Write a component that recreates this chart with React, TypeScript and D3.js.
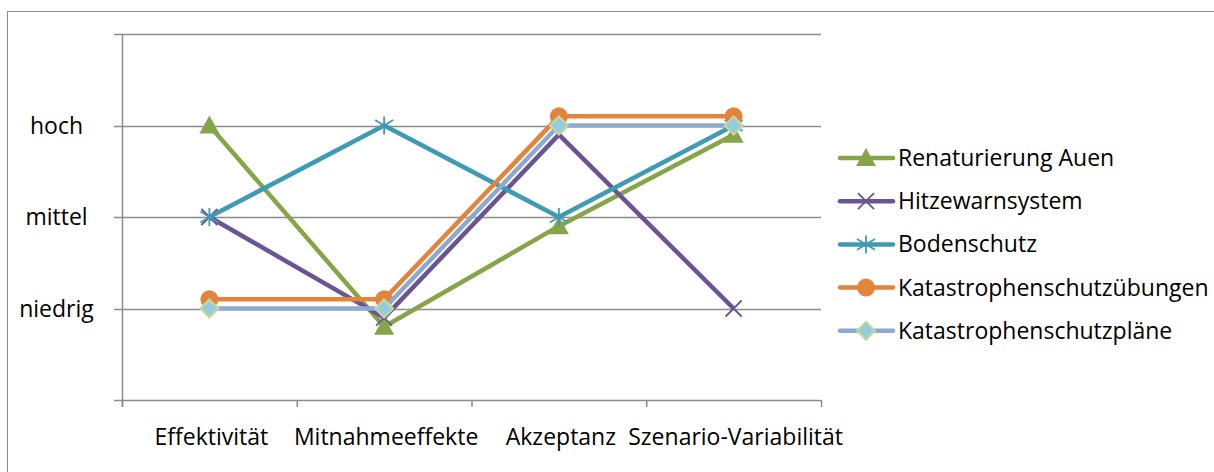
import React from 'react';
import * as d3 from 'd3';

const categories = ['Effektivität', 'Mitnahmeeffekte', 'Akzeptanz', 'Szenario-Variabilität'];
const levelLabels = ['niedrig', 'mittel', 'hoch'];

const renaturierung = [3, 0.8, 1.9, 2.9];
const hitzewarn = [2, 0.9, 2.9, 1];
const bodenschutz = [2, 3, 2, 3];
const kUebungen = [1.1, 1.1, 3.1, 3.1];
const kPlaene = [1, 1, 3, 3];

const series = [
    { name: 'Renaturierung Auen', values: renaturierung, color: '#86A44A', marker: 'triangle' },
    { name: 'Hitzewarnsystem', values: hitzewarn, color: '#6B5494', marker: 'x' },
    { name: 'Bodenschutz', values: bodenschutz, color: '#3E9BB3', marker: 'star' },
    { name: 'Katastrophenschutzübungen', values: kUebungen, color: '#E2843C', marker: 'circle' },
    { name: 'Katastrophenschutzpläne', values: kPlaene, color: '#8EA9D0', marker: 'diamond' },
];

const FONT = '"Open Sans", Lato, sans-serif';
const FS = 23;

const Marker = ({ type, x, y, color }) => {
    if (type === 'triangle') {
        return <path d={`M${x},${y - 10}L${x + 10},${y + 8}L${x - 10},${y + 8}Z`} fill={color} />;
    }
    if (type === 'x') {
        const s = 8;
        return <path d={`M${x - s},${y - s}L${x + s},${y + s}M${x - s},${y + s}L${x + s},${y - s}`} stroke={color} strokeWidth={1.8} />;
    }
    if (type === 'star') {
        const s = 9;
        return <path d={`M${x - s},${y - s * 0.6}L${x + s},${y + s * 0.6}M${x - s},${y + s * 0.6}L${x + s},${y - s * 0.6}M${x},${y - s}L${x},${y + s}`} stroke={color} strokeWidth={1.8} />;
    }
    if (type === 'circle') {
        return <circle cx={x} cy={y} r={9} fill={color} />;
    }
    return <path d={`M${x},${y - 9}L${x + 9},${y}L${x},${y + 9}L${x - 9},${y}Z`} fill="#93CDDD" stroke="#C6D89E" strokeWidth={2} />;
};

const App = () => {
    const width = 1214;
    const height = 472;
    const left = 122, right = 821, top = 34, bottom = 400;

    const x = d3.scaleBand().domain(categories).range([left, right]);
    const y = d3.scaleLinear().domain([0, 4]).range([bottom, top]);
    const cx = (c) => x(c) + x.bandwidth() / 2;

    const line = d3.line<number>()
        .x((d, i) => cx(categories[i]))
        .y(d => y(d));

    const gridVals = [1, 2, 3, 4];
    const tickXs = [...categories.map(c => x(c)), right];

    return (
        <svg width={width} height={height} style={{ position: 'absolute', left: 0, top: 0 }}>
            <rect x={7.5} y={11.5} width={1300} height={600} fill="#fff" stroke="#8c8c8c" strokeWidth={1} />

            {gridVals.map(v => (
                <line key={v} x1={114} x2={right} y1={Math.round(y(v)) + 0.5} y2={Math.round(y(v)) + 0.5} stroke="#8c8c8c" strokeWidth={1.5} />
            ))}
            <line x1={114} x2={right} y1={bottom + 0.5} y2={bottom + 0.5} stroke="#8c8c8c" strokeWidth={1.5} />
            <line x1={left + 0.5} x2={left + 0.5} y1={top} y2={bottom + 7} stroke="#8c8c8c" strokeWidth={1.5} />
            {tickXs.map((t, i) => (
                <line key={i} x1={t + 0.5} x2={t + 0.5} y1={bottom} y2={bottom + 7} stroke="#8c8c8c" strokeWidth={1.5} />
            ))}

            {levelLabels.map((l, i) => (
                <text key={l} x={56.5} y={y(i + 1)} dy="0.35em" textAnchor="middle" fontFamily={FONT} fontSize={FS} fill="#000">{l}</text>
            ))}
            {categories.map(c => (
                <text key={c} x={cx(c) + 2} y={437} dy="0.35em" textAnchor="middle" fontFamily={FONT} fontSize={FS} fill="#000">{c}</text>
            ))}

            {series.map(s => (
                <g key={s.name}>
                    <path d={line(s.values)} fill="none" stroke={s.color} strokeWidth={4.5} strokeLinejoin="round" />
                    {s.values.map((v, i) => (
                        <Marker key={i} type={s.marker} x={cx(categories[i])} y={y(v)} color={s.color} />
                    ))}
                </g>
            ))}

            {series.map((s, i) => {
                const ly = 158 + i * 43.2;
                return (
                    <g key={s.name}>
                        <line x1={840} x2={893} y1={ly} y2={ly} stroke={s.color} strokeWidth={4.5} strokeLinecap="round" />
                        <Marker type={s.marker} x={866} y={ly} color={s.color} />
                        <text x={898} y={ly} dy="0.35em" fontFamily={FONT} fontSize={FS} fill="#000">{s.name}</text>
                    </g>
                );
            })}
        </svg>
    );
};

export default App;
